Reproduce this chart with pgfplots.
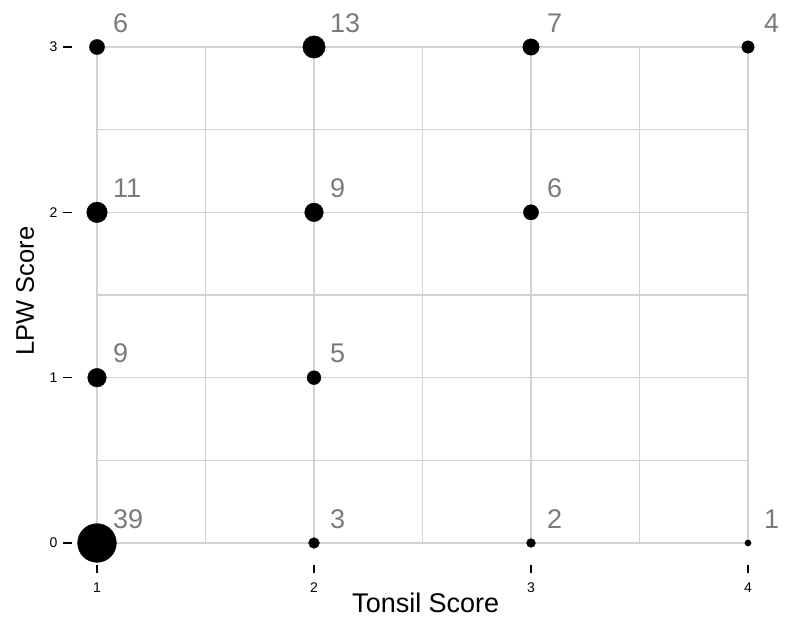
\documentclass[border=0pt]{standalone}
\usepackage{fontspec}
\setmainfont{Liberation Sans}
\usepackage{pgfplots}
\pgfplotsset{compat=1.18}
\definecolor{gridc}{HTML}{D3D3D3}
\definecolor{labc}{HTML}{7A7A7A}
\pgfplotstableread{
x y n
1 3 6
2 3 13
3 3 7
4 3 4
1 2 11
2 2 9
3 2 6
1 1 9
2 1 5
1 0 39
2 0 3
3 0 2
4 0 1
}\counts
\begin{document}
\begin{tikzpicture}
\begin{axis}[
  scale only axis, width=651pt, height=496pt,
  xmin=1, xmax=4, ymin=0, ymax=3,
  clip=false,
  axis line style={draw=none},
  xtick={1,2,3,4}, ytick={0,1,2,3},
  minor xtick={1.5,2.5,3.5}, minor ytick={0.5,1.5,2.5},
  grid=both,
  major grid style={gridc, line width=1.4pt},
  minor grid style={gridc, line width=1.4pt},
  xtick pos=left, ytick pos=left,
  tick align=inside,
  major tick length=8pt, minor tick length=0pt,
  xtick style={draw=black, line width=1.4pt, yshift=-30pt},
  ytick style={draw=none},
  /pgf/number format/assume math mode=true,
  xticklabel style={font=\fontsize{14}{14}\selectfont, anchor=base, inner sep=0pt, yshift=-49pt},
  yticklabel={\pgfmathprintnumber{\tick}\hspace{6pt}\rule[4.2pt]{9pt}{1.2pt}},
  yticklabel style={font=\fontsize{14}{14}\selectfont, anchor=east, xshift=-21pt},
  xlabel={Tonsil Score},
  xlabel style={font=\fontsize{27}{27}\selectfont, at={(axis description cs:0.505,0)}, anchor=base, yshift=-69pt, inner sep=0pt},
  ylabel={LPW Score},
  ylabel style={font=\fontsize{25.5}{25.5}\selectfont, at={(axis description cs:0,0.508)}, anchor=base, yshift=63pt, inner sep=0pt},
]
\addplot[black, scatter, only marks, mark=*,
  scatter/use mapped color={draw=black, fill=black},
  visualization depends on={3.1*sqrt(\thisrow{n})\as\ms},
  scatter/@pre marker code/.append style={/tikz/mark size=\ms},
] table[x=x, y=y] {\counts};
% x-axis tick dashes (sit below the axis, as in the reference)
\addplot[only marks, mark=|, mark size=4pt, black,
  mark options={line width=1.4pt, yshift=-26pt}] coordinates {(1,0) (2,0) (3,0) (4,0)};
\addplot[only marks, mark=none,
  point meta=\thisrow{n},
  nodes near coords,
  every node near coord/.append style={anchor=base west, inner sep=0pt, xshift=16pt, yshift=15pt, font=\fontsize{27}{27}\selectfont, text=labc},
] table[x=x, y=y] {\counts};
\end{axis}
\pgfresetboundingbox
\path (-97pt,-79pt) rectangle (688pt,543pt);
\end{tikzpicture}
\end{document}
